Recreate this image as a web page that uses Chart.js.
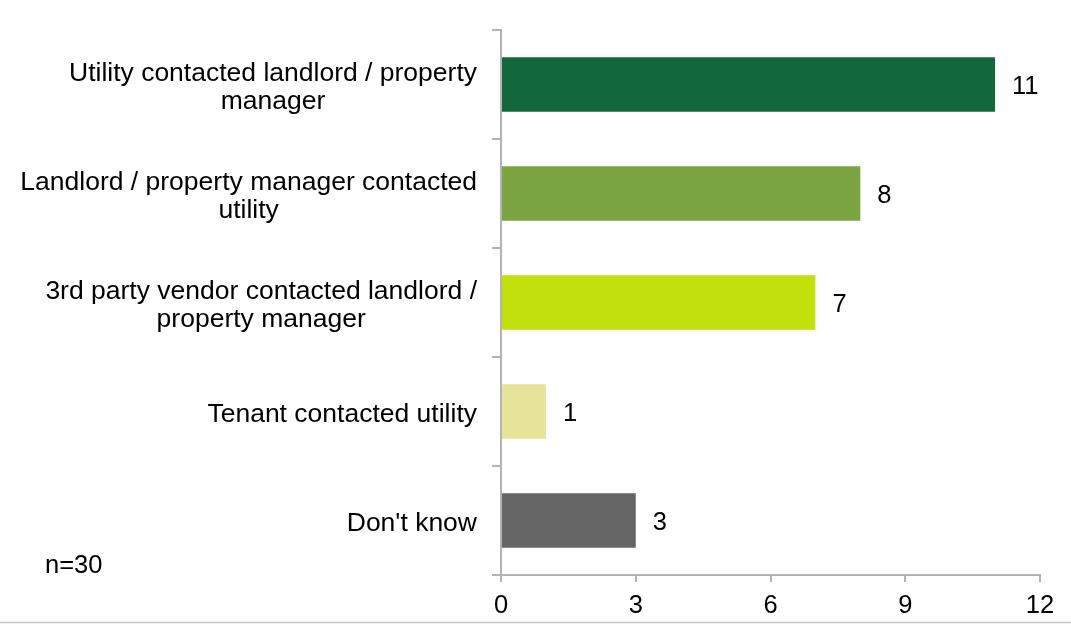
<!DOCTYPE html>
<html>
<head>
<meta charset="utf-8">
<title>Contact chart</title>
<script src="https://cdn.jsdelivr.net/npm/chart.js@4/dist/chart.umd.min.js"></script>
<style>
  body { margin: 0; background: #fff; }
  #wrap { width: 1071px; height: 625px; }
</style>
</head>
<body>
<div id="wrap"><canvas id="contactChart" width="1071" height="625"></canvas></div>
<script>
const categories = [
  ["Utility contacted landlord / property", "manager"],
  ["Landlord / property manager contacted", "utility"],
  ["3rd party vendor contacted landlord /", "property manager"],
  ["Tenant contacted utility"],
  ["Don't know"]
];
const counts = [11, 8, 7, 1, 3];
const barColors = ["#13673d", "#7aa542", "#c2e00c", "#e6e49a", "#666666"];
const xTicks = [0, 3, 6, 9, 12];
const sampleNote = "n=30";

const axisGray = "#b3b3b3";
const fontFamily = "'Liberation Sans', Arial, sans-serif";

// category labels: block right-aligned at the axis, lines centred within it
// plus value labels, the n= note and the bottom rule
const extras = {
  id: "extras",
  afterDatasetsDraw(chart) {
    const ctx = chart.ctx;
    const yScale = chart.scales.y;
    const meta = chart.getDatasetMeta(0);
    ctx.save();
    ctx.fillStyle = "#000";
    ctx.textBaseline = "middle";

    ctx.font = "26.5px " + fontFamily;
    ctx.textAlign = "center";
    const lineH = 28;
    const rightEdge = 477;
    categories.forEach((lines, i) => {
      const w = Math.max(...lines.map(l => ctx.measureText(l).width));
      const cx = rightEdge - w / 2;
      const cy = yScale.getPixelForValue(i) + 3;
      const top = cy - (lines.length - 1) * lineH / 2;
      lines.forEach((l, j) => ctx.fillText(l, cx, top + j * lineH));
    });

    ctx.textAlign = "left";
    ctx.font = "25.5px " + fontFamily;
    meta.data.forEach((bar, i) => {
      ctx.fillText(String(counts[i]), bar.x + 17, bar.y + 2);
    });
    ctx.fillText(sampleNote, 45, 566);

    ctx.strokeStyle = "#c8c8c8";
    ctx.lineWidth = 1.5;
    ctx.beginPath();
    ctx.moveTo(0, 622.5);
    ctx.lineTo(chart.width, 622.5);
    ctx.stroke();
    ctx.restore();
  }
};

new Chart(document.getElementById("contactChart"), {
  type: "bar",
  data: {
    labels: categories,
    datasets: [{
      data: counts,
      backgroundColor: barColors,
      borderWidth: 0,
      categoryPercentage: 1,
      barPercentage: 0.5
    }]
  },
  options: {
    indexAxis: "y",
    responsive: false,
    animation: false,
    layout: { padding: { top: 30, right: 31, left: 0, bottom: 0 } },
    plugins: {
      legend: { display: false },
      tooltip: { enabled: false }
    },
    scales: {
      x: {
        min: 0,
        max: 12,
        afterBuildTicks(scale) {
          scale.ticks = xTicks.map(v => ({ value: v }));
        },
        afterFit(scale) { scale.height = 50; },
        border: { color: axisGray, width: 2 },
        grid: { drawOnChartArea: false, tickLength: 7, color: axisGray, lineWidth: 2 },
        ticks: {
          color: "#000",
          padding: 9,
          font: { family: fontFamily, size: 25.5 }
        }
      },
      y: {
        afterFit(scale) { scale.width = 501; },
        border: { color: axisGray, width: 2 },
        grid: { drawOnChartArea: false, tickLength: 9, color: axisGray, lineWidth: 2, offset: true },
        ticks: { display: false }
      }
    }
  },
  plugins: [extras]
});
</script>
</body>
</html>
